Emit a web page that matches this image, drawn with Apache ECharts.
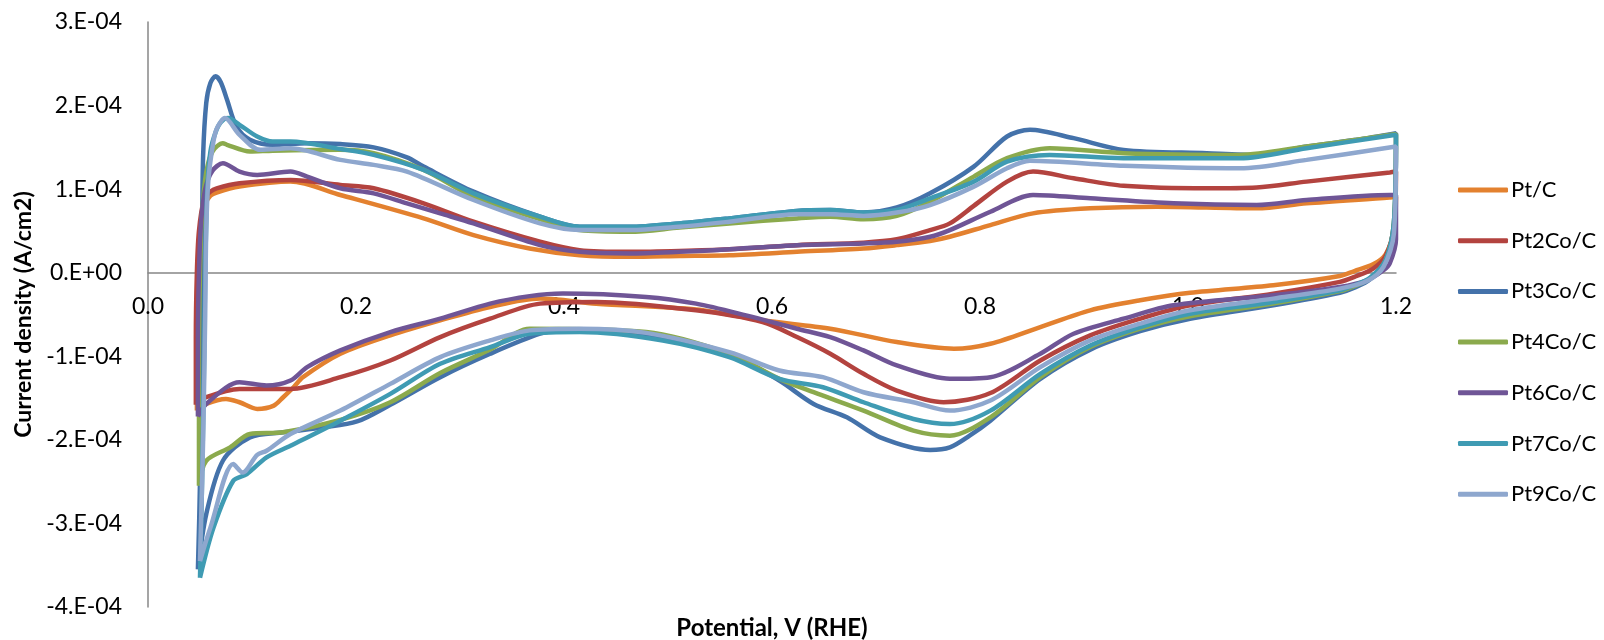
<!DOCTYPE html>
<html>
<head>
<meta charset="utf-8">
<script src="https://cdn.jsdelivr.net/npm/echarts@6/dist/echarts.min.js"></script>
<style>
html,body{margin:0;padding:0;background:#fff;}
#chart{width:1604px;height:640px;}
</style>
</head>
<body>
<div id="chart"></div>
<script>
// Current density in units of 1e-4 A/cm2, potential in V (RHE). Each series is a closed CV loop.
const seriesNames = ['Pt/C','Pt2Co/C','Pt3Co/C','Pt4Co/C','Pt6Co/C','Pt7Co/C','Pt9Co/C'];
const seriesColors = ['#E3812F','#B3433F','#4472AA','#8BAA4D','#6F5596','#3F9BB3','#8EA7CE'];

const ptC = [[0.047,-1.65],[0.047,-0.8],[0.048,0.0],[0.050,0.5],[0.054,0.8],[0.060,0.92],[0.066,0.96],[0.088,1.03],[0.137,1.09],[0.185,0.93],[0.265,0.65],[0.313,0.45],[0.367,0.29],[0.415,0.21],[0.463,0.19],[0.511,0.20],[0.559,0.21],[0.624,0.25],[0.688,0.29],[0.720,0.33],[0.752,0.38],[0.771,0.43],[0.810,0.57],[0.851,0.71],[0.906,0.77],[0.970,0.79],[1.066,0.77],[1.114,0.83],[1.194,0.90],[1.2,0.91],
  [1.198,0.5],[1.19,0.22],[1.178,0.1],[1.16,0.02],[1.146,-0.04],[1.082,-0.15],[1.002,-0.24],[0.954,-0.33],[0.906,-0.45],[0.858,-0.65],[0.810,-0.85],[0.775,-0.91],[0.720,-0.83],[0.656,-0.67],[0.591,-0.57],[0.527,-0.44],[0.431,-0.37],[0.377,-0.31],[0.329,-0.41],[0.281,-0.57],[0.233,-0.75],[0.185,-0.97],[0.149,-1.25],[0.140,-1.37],[0.130,-1.49],[0.121,-1.59],[0.105,-1.63],[0.088,-1.55],[0.075,-1.51],[0.056,-1.57],[0.047,-1.65]];

const pt2Co = [[0.046,-1.58],[0.046,-0.8],[0.047,0.0],[0.049,0.5],[0.054,0.88],[0.060,0.97],[0.066,1.01],[0.088,1.07],[0.137,1.11],[0.185,1.05],[0.217,1.01],[0.265,0.83],[0.313,0.61],[0.377,0.37],[0.415,0.27],[0.463,0.25],[0.511,0.26],[0.559,0.28],[0.624,0.33],[0.688,0.36],[0.720,0.40],[0.752,0.51],[0.771,0.59],[0.794,0.80],[0.826,1.09],[0.851,1.21],[0.890,1.13],[0.938,1.04],[1.018,1.01],[1.066,1.02],[1.114,1.09],[1.194,1.20],[1.2,1.21],
  [1.198,0.55],[1.19,0.2],[1.178,0.05],[1.16,-0.05],[1.146,-0.11],[1.082,-0.25],[1.002,-0.39],[0.954,-0.55],[0.906,-0.75],[0.858,-1.05],[0.810,-1.44],[0.765,-1.55],[0.720,-1.41],[0.688,-1.21],[0.656,-0.97],[0.624,-0.77],[0.591,-0.59],[0.527,-0.45],[0.431,-0.35],[0.377,-0.37],[0.329,-0.55],[0.281,-0.77],[0.233,-1.05],[0.185,-1.25],[0.137,-1.39],[0.088,-1.39],[0.056,-1.49],[0.046,-1.58]];

const pt3Co = [[0.048,-3.55],[0.050,-2.5],[0.051,-1.0],[0.052,0.5],[0.053,1.4],[0.056,2.03],[0.060,2.27],[0.065,2.35],[0.070,2.28],[0.076,2.07],[0.085,1.75],[0.098,1.59],[0.120,1.53],[0.153,1.55],[0.185,1.54],[0.217,1.50],[0.249,1.38],[0.265,1.27],[0.313,0.97],[0.377,0.67],[0.415,0.55],[0.463,0.55],[0.511,0.59],[0.559,0.65],[0.624,0.74],[0.656,0.75],[0.688,0.72],[0.720,0.78],[0.752,0.95],[0.794,1.27],[0.826,1.63],[0.848,1.71],[0.890,1.61],[0.938,1.47],[1.018,1.43],[1.066,1.41],[1.114,1.51],[1.162,1.59],[1.2,1.67],
  [1.198,0.6],[1.19,0.15],[1.175,-0.08],[1.16,-0.18],[1.146,-0.24],[1.082,-0.39],[1.002,-0.55],[0.954,-0.70],[0.906,-0.92],[0.858,-1.27],[0.810,-1.77],[0.790,-1.95],[0.771,-2.09],[0.752,-2.12],[0.704,-1.97],[0.672,-1.73],[0.640,-1.57],[0.607,-1.29],[0.559,-0.97],[0.479,-0.75],[0.399,-0.69],[0.377,-0.73],[0.329,-0.97],[0.281,-1.25],[0.233,-1.58],[0.201,-1.78],[0.169,-1.85],[0.130,-1.91],[0.098,-1.97],[0.072,-2.25],[0.056,-2.89],[0.048,-3.55]];

const pt4Co = [[0.049,-2.55],[0.049,-1.0],[0.050,0.0],[0.052,0.7],[0.056,1.2],[0.062,1.45],[0.072,1.55],[0.076,1.53],[0.098,1.45],[0.120,1.46],[0.185,1.47],[0.217,1.43],[0.265,1.23],[0.313,0.91],[0.377,0.64],[0.415,0.51],[0.463,0.49],[0.511,0.54],[0.559,0.59],[0.624,0.65],[0.656,0.67],[0.688,0.64],[0.720,0.68],[0.752,0.85],[0.794,1.15],[0.826,1.37],[0.867,1.49],[0.938,1.43],[1.050,1.41],[1.114,1.51],[1.162,1.59],[1.2,1.66],
  [1.198,0.6],[1.19,0.15],[1.175,-0.07],[1.16,-0.16],[1.146,-0.22],[1.082,-0.37],[1.002,-0.52],[0.954,-0.67],[0.906,-0.89],[0.858,-1.25],[0.810,-1.73],[0.771,-1.95],[0.736,-1.89],[0.688,-1.65],[0.640,-1.43],[0.607,-1.27],[0.559,-0.97],[0.479,-0.71],[0.367,-0.67],[0.329,-0.92],[0.281,-1.20],[0.233,-1.55],[0.185,-1.76],[0.130,-1.91],[0.098,-1.93],[0.079,-2.09],[0.056,-2.25],[0.049,-2.55]];

const pt6Co = [[0.048,-1.72],[0.048,-0.8],[0.049,0.0],[0.051,0.6],[0.055,1.0],[0.062,1.22],[0.072,1.31],[0.088,1.21],[0.105,1.17],[0.137,1.21],[0.153,1.15],[0.185,1.01],[0.217,0.95],[0.249,0.83],[0.281,0.71],[0.313,0.59],[0.377,0.33],[0.415,0.25],[0.463,0.23],[0.511,0.25],[0.559,0.28],[0.624,0.33],[0.688,0.35],[0.720,0.37],[0.752,0.43],[0.771,0.51],[0.810,0.73],[0.851,0.93],[0.906,0.89],[0.986,0.83],[1.066,0.81],[1.114,0.87],[1.194,0.93],[1.2,0.93],
  [1.2,0.4],[1.194,0.11],[1.188,0.03],[1.172,-0.09],[1.146,-0.17],[1.082,-0.27],[0.986,-0.39],[0.938,-0.55],[0.890,-0.73],[0.858,-0.97],[0.810,-1.25],[0.771,-1.27],[0.720,-1.11],[0.688,-0.93],[0.656,-0.77],[0.624,-0.67],[0.575,-0.51],[0.527,-0.37],[0.479,-0.29],[0.399,-0.25],[0.367,-0.28],[0.329,-0.37],[0.281,-0.55],[0.233,-0.71],[0.185,-0.93],[0.153,-1.13],[0.137,-1.29],[0.114,-1.35],[0.088,-1.31],[0.056,-1.57],[0.048,-1.72]];

const pt7Co = [[0.050,-3.65],[0.052,-2.5],[0.054,-1.0],[0.055,0.0],[0.057,1.0],[0.060,1.45],[0.065,1.68],[0.070,1.8],[0.077,1.85],[0.088,1.77],[0.105,1.63],[0.120,1.57],[0.137,1.57],[0.185,1.48],[0.217,1.41],[0.265,1.23],[0.313,0.95],[0.377,0.67],[0.415,0.55],[0.463,0.55],[0.511,0.59],[0.559,0.65],[0.624,0.74],[0.656,0.75],[0.688,0.72],[0.720,0.75],[0.752,0.89],[0.794,1.09],[0.826,1.33],[0.867,1.41],[0.938,1.37],[1.050,1.37],[1.114,1.49],[1.2,1.65],
  [1.198,0.6],[1.19,0.15],[1.175,-0.06],[1.16,-0.15],[1.146,-0.21],[1.082,-0.35],[1.002,-0.49],[0.954,-0.65],[0.906,-0.87],[0.858,-1.21],[0.810,-1.65],[0.771,-1.81],[0.736,-1.75],[0.688,-1.55],[0.649,-1.37],[0.607,-1.27],[0.559,-1.01],[0.495,-0.81],[0.415,-0.71],[0.367,-0.73],[0.329,-0.89],[0.281,-1.09],[0.233,-1.45],[0.185,-1.77],[0.137,-2.07],[0.114,-2.21],[0.095,-2.41],[0.082,-2.49],[0.063,-3.05],[0.050,-3.65]];

const pt9Co = [[0.050,-3.45],[0.053,-2.0],[0.055,-0.5],[0.056,0.5],[0.058,1.1],[0.062,1.5],[0.066,1.72],[0.074,1.85],[0.088,1.65],[0.108,1.47],[0.137,1.49],[0.185,1.35],[0.217,1.29],[0.249,1.21],[0.313,0.87],[0.377,0.59],[0.415,0.51],[0.463,0.51],[0.511,0.55],[0.559,0.61],[0.624,0.70],[0.656,0.70],[0.688,0.68],[0.720,0.72],[0.752,0.81],[0.794,1.03],[0.826,1.25],[0.848,1.34],[0.938,1.28],[1.050,1.25],[1.114,1.35],[1.2,1.51],
  [1.198,0.47],[1.188,0.07],[1.172,-0.1],[1.146,-0.19],[1.082,-0.31],[1.002,-0.45],[0.954,-0.61],[0.906,-0.81],[0.858,-1.13],[0.810,-1.53],[0.771,-1.65],[0.736,-1.55],[0.688,-1.43],[0.649,-1.25],[0.607,-1.17],[0.559,-0.95],[0.479,-0.72],[0.415,-0.67],[0.367,-0.69],[0.329,-0.81],[0.281,-1.01],[0.233,-1.33],[0.185,-1.65],[0.137,-1.93],[0.114,-2.13],[0.105,-2.18],[0.091,-2.39],[0.082,-2.29],[0.060,-3.05],[0.050,-3.45]];

const seriesData = [ptC, pt2Co, pt3Co, pt4Co, pt6Co, pt7Co, pt9Co];

const FONT = 'Lato, "Liberation Sans", sans-serif';
const GRID_TOP = 22, GRID_BOTTOM = 33, Y_MIN = -4, Y_MAX = 3;
const plotH = 640 - GRID_TOP - GRID_BOTTOM;
// shift the x axis (line + labels) from the grid bottom up to y = 0
const zeroOffset = -plotH * (0 - Y_MIN) / (Y_MAX - Y_MIN);

const chart = echarts.init(document.getElementById('chart'), null, {renderer: 'canvas'});
chart.setOption({
  animation: false,
  backgroundColor: '#ffffff',
  grid: {left: 148, right: 208, top: GRID_TOP, bottom: GRID_BOTTOM, containLabel: false, outerBoundsMode: 'none'},
  legend: {
    orient: 'vertical',
    left: 1453,
    top: 174,
    icon: 'roundRect',
    itemWidth: 50,
    itemHeight: 5,
    itemGap: 28.7,
    data: seriesNames,
    textStyle: {fontFamily: FONT, fontSize: 22, color: '#000', padding: [0, 0, 0, -2]}
  },
  xAxis: {
    type: 'value',
    min: 0, max: 1.2, interval: 0.2,
    position: 'bottom',
    offset: zeroOffset,
    name: 'Potential, V (RHE)',
    nameLocation: 'middle',
    nameGap: 344,
    nameTextStyle: {fontFamily: FONT, fontSize: 24, fontWeight: 'bold', color: '#000'},
    axisLine: {onZero: false, lineStyle: {color: '#878787', width: 1.5}},
    axisTick: {show: false},
    splitLine: {show: false},
    axisLabel: {margin: 22, fontFamily: FONT, fontSize: 23, color: '#000', formatter: v => v.toFixed(1)}
  },
  yAxis: {
    type: 'value',
    min: Y_MIN, max: Y_MAX, interval: 1,
    name: 'Current density (A/cm2)',
    nameLocation: 'middle',
    nameGap: 102,
    nameTextStyle: {fontFamily: FONT, fontSize: 23, fontWeight: 'bold', color: '#000'},
    axisLine: {show: true, lineStyle: {color: '#878787', width: 1.5}},
    axisTick: {show: false},
    splitLine: {show: false},
    axisLabel: {margin: 26, fontFamily: FONT, fontSize: 23, color: '#000',
      formatter: v => v === 0 ? '0.E+00' : v + '.E-04'}
  },
  series: seriesNames.map((name, i) => ({
    name: name,
    type: 'line',
    data: seriesData[i],
    smooth: 0.3,
    symbol: 'none',
    lineStyle: {color: seriesColors[i], width: 4.5},
    itemStyle: {color: seriesColors[i]},
    z: 2 + i
  }))
});
</script>
</body>
</html>
